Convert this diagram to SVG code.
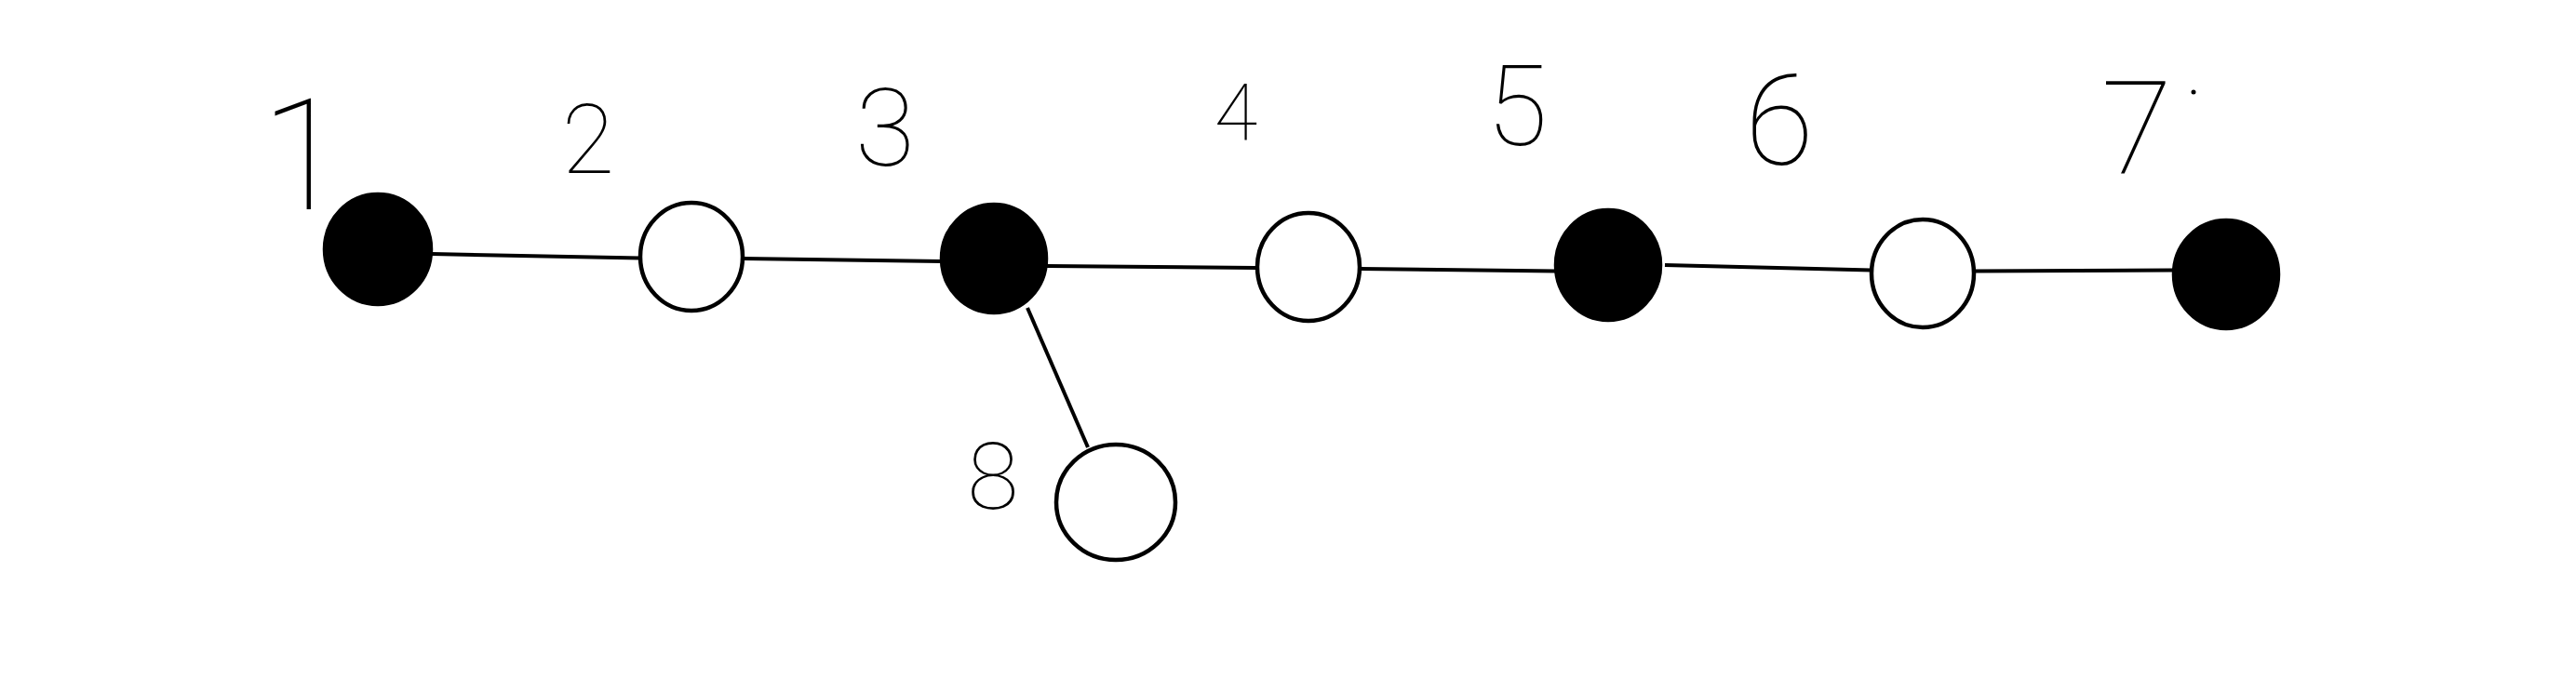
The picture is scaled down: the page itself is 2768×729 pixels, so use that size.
<svg xmlns="http://www.w3.org/2000/svg" width="2768" height="729" viewBox="0 0 2768 729">
<style>
.edge{stroke:#000;stroke-width:4;fill:none;stroke-linecap:butt}
.filled{fill:#000;stroke:#000;stroke-width:4.5}
.open{fill:#fff;stroke:#000;stroke-width:4.5}
.lbl{font-family:Roboto,Lato,"Liberation Sans",sans-serif;font-weight:100;fill:#000;text-anchor:middle}
</style>
<rect width="2768" height="729" fill="#fff"/>
<g id="connectors">
<line class="edge" x1="464" y1="273" x2="688" y2="277.5"/>
<line class="edge" x1="799" y1="278" x2="1012" y2="281"/>
<line class="edge" x1="1125" y1="286" x2="1350" y2="288"/>
<line class="edge" x1="1462" y1="289" x2="1672" y2="291.5"/>
<line class="edge" x1="1789" y1="285" x2="2011" y2="290.5"/>
<line class="edge" x1="2122" y1="291.5" x2="2335" y2="290.5"/>
<line class="edge" x1="1104" y1="331" x2="1169" y2="481"/>
</g>
<g id="node1"><ellipse class="filled" cx="406" cy="268" rx="57" ry="59"/><text class="lbl" x="326" y="225" font-size="167">1</text></g>
<g id="node2"><ellipse class="open" cx="743" cy="276" rx="55" ry="58"/><text class="lbl" x="632" y="186" font-size="103">2</text></g>
<g id="node3"><ellipse class="filled" cx="1068" cy="278" rx="56" ry="58"/><text class="lbl" x="951" y="178" font-size="117">3</text></g>
<g id="node4"><ellipse class="open" cx="1406" cy="287" rx="55" ry="58"/><text class="lbl" x="1328" y="151" font-size="85">4</text></g>
<g id="node5"><ellipse class="filled" cx="1728" cy="285" rx="56" ry="59"/><text class="lbl" x="1630" y="156" font-size="120">5</text></g>
<g id="node6"><ellipse class="open" cx="2066" cy="294" rx="55" ry="58"/><text class="lbl" x="1912" y="177" font-size="135">6</text></g>
<g id="node7"><ellipse class="filled" cx="2392" cy="295" rx="56" ry="58"/><text class="lbl" x="2296" y="186" font-size="140">7</text><circle cx="2357" cy="99" r="2.5" fill="#000"/></g>
<g id="node8"><ellipse class="open" cx="1199" cy="540" rx="64" ry="62"/><text class="lbl" x="1067" y="547" font-size="101">8</text></g>
</svg>
